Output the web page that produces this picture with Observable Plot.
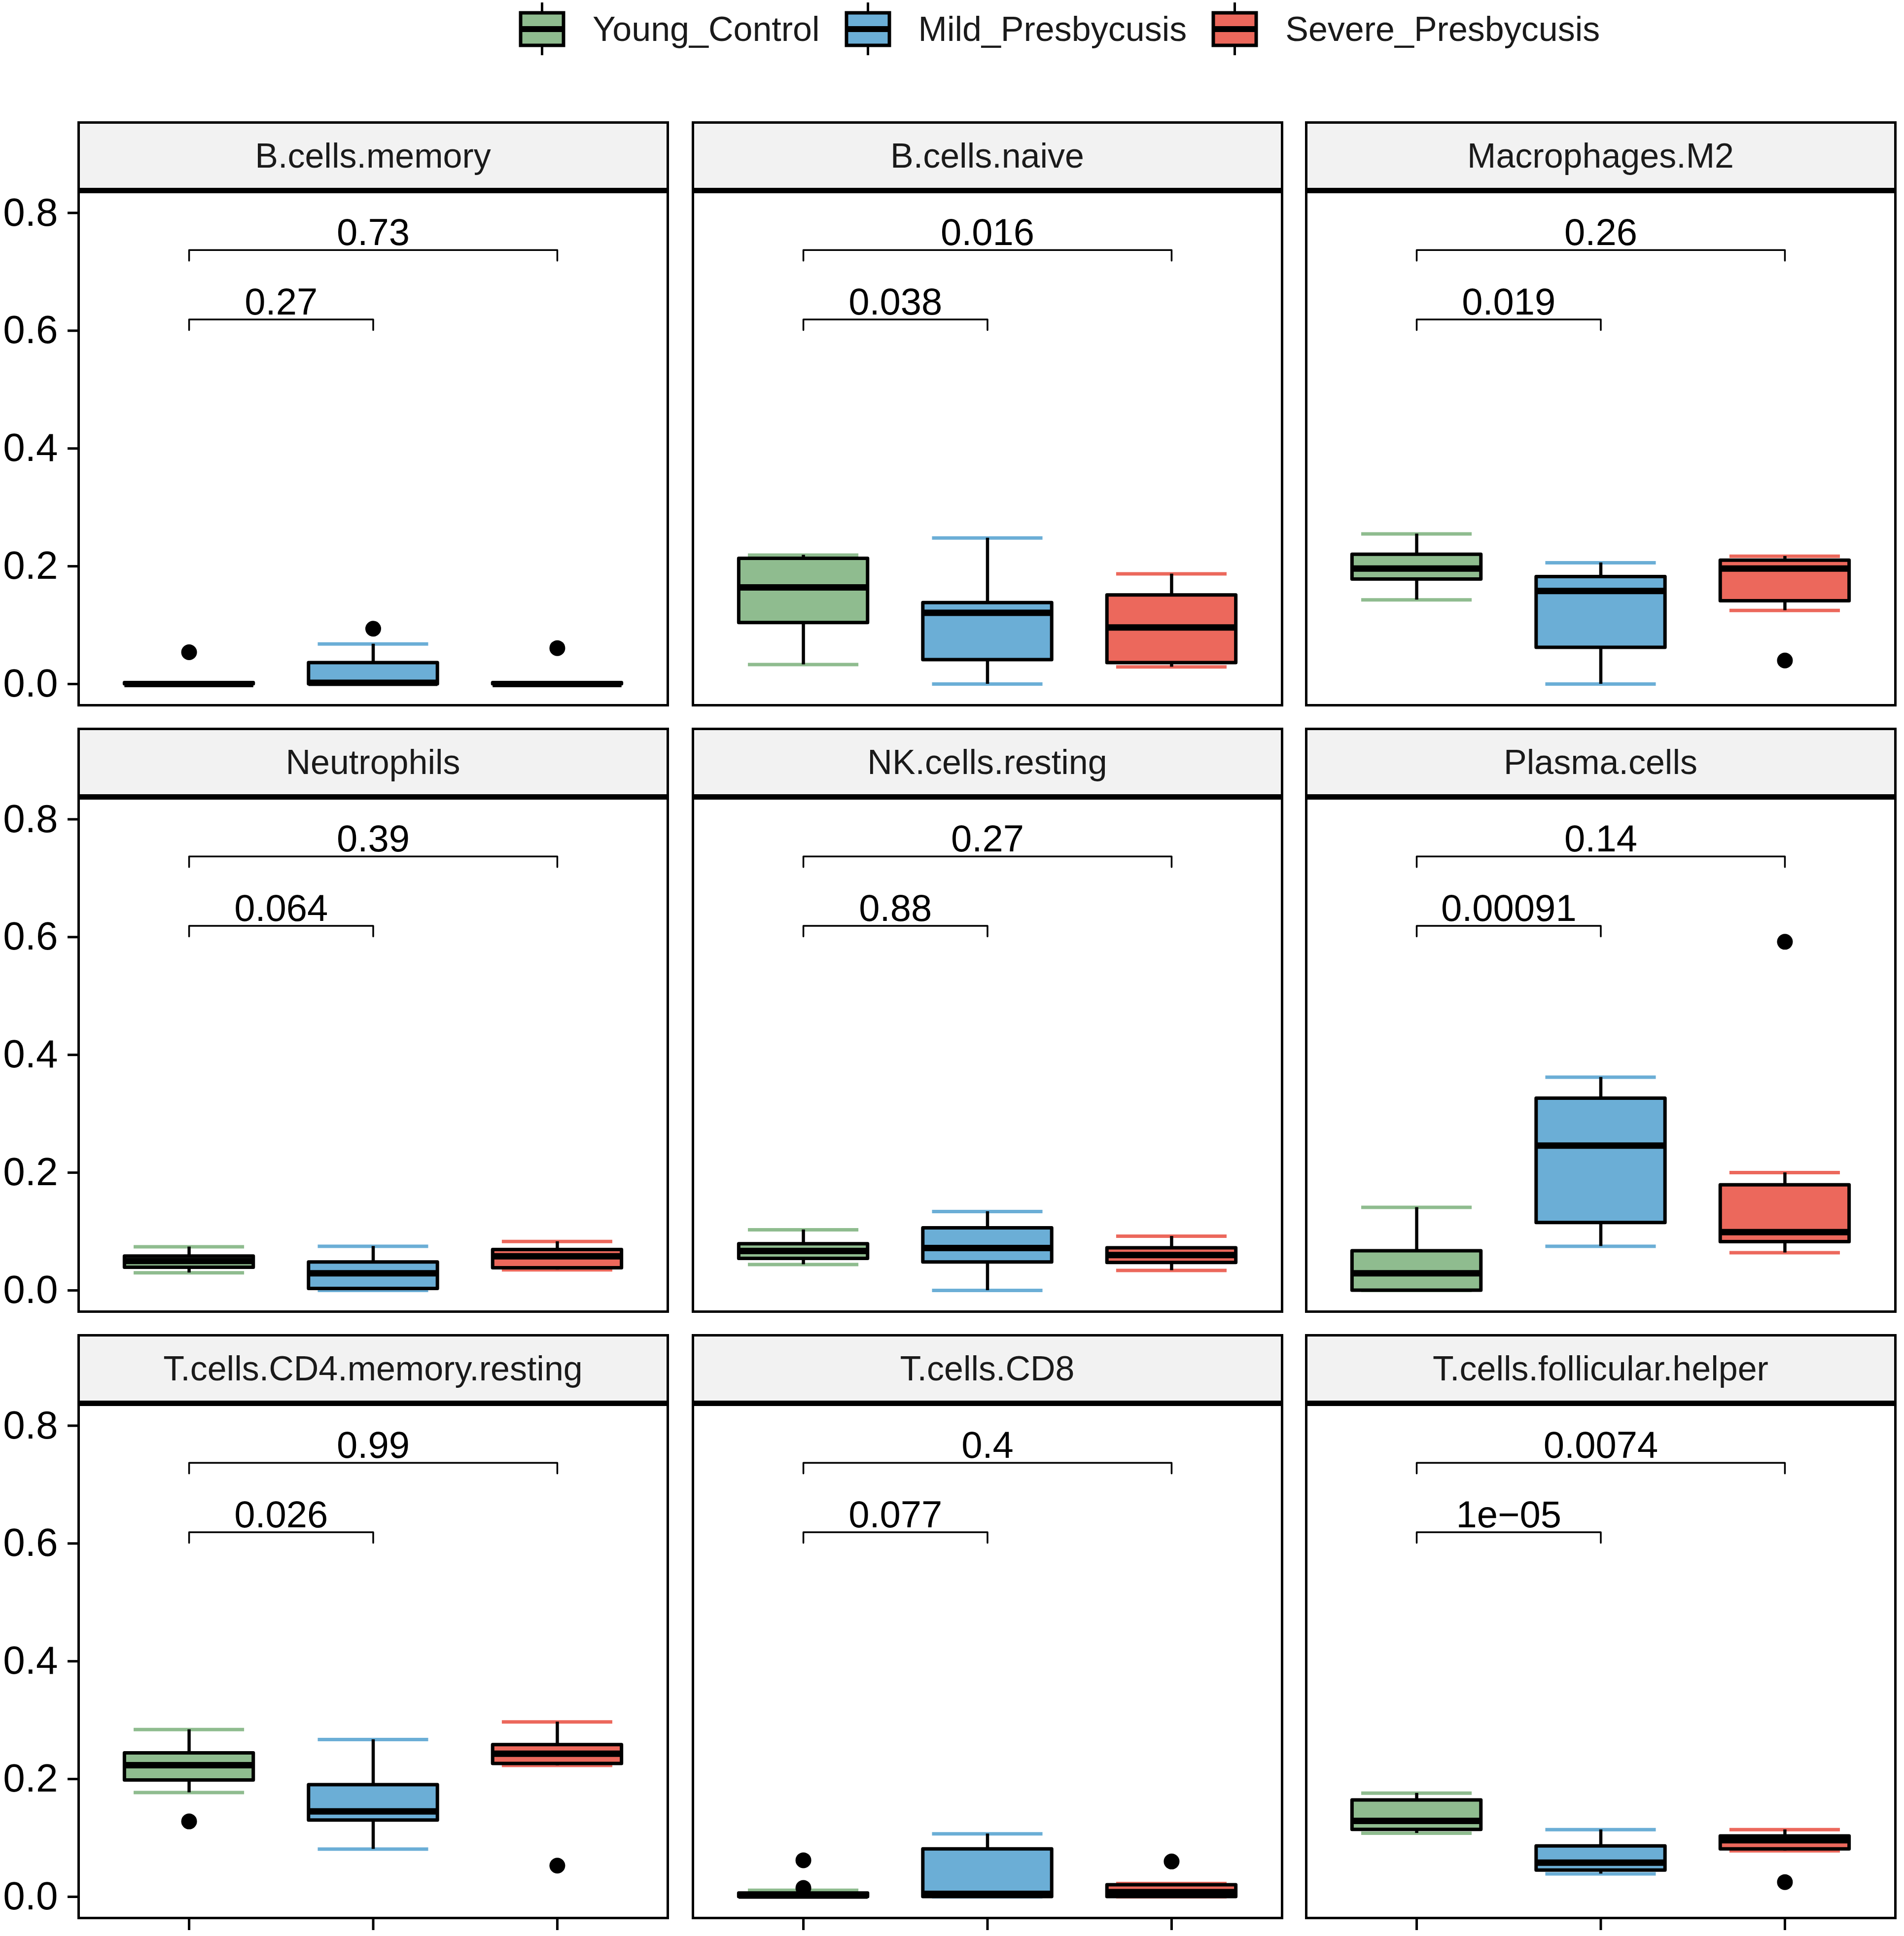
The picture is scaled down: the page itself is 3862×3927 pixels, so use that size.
<!DOCTYPE html>
<html><head><meta charset="utf-8">
<script src="https://cdn.jsdelivr.net/npm/d3@7"></script>
<script src="https://cdn.jsdelivr.net/npm/@observablehq/plot@0.6"></script>
<style>
html,body{margin:0;padding:0;background:#fff;}
#root{position:relative;width:3862px;height:3927px;font-family:"Liberation Sans",Arial,Helvetica,sans-serif;overflow:hidden;}
.strip{position:absolute;box-sizing:border-box;background:#f2f2f2;border:5px solid #000;border-bottom-width:11px;display:flex;align-items:center;justify-content:center;font-size:70px;color:#1a1a1a;}
.legend{position:absolute;top:0;left:1052px;height:118px;display:flex;align-items:center;font-size:70px;color:#1a1a1a;}
.legend .item{display:flex;align-items:center;margin-right:50px;}
.legend svg{display:block;margin-right:55px;}
.cell{position:absolute;}
</style></head><body><div id="root"></div>
<script>
// ---------------- data ----------------
const groups = ["Young_Control", "Mild_Presbycusis", "Severe_Presbycusis"];
const groupColors = ["#8FBC8F", "#6BAED6", "#EC685C"];
const panels = ["B.cells.memory", "B.cells.naive", "Macrophages.M2",
                "Neutrophils", "NK.cells.resting", "Plasma.cells",
                "T.cells.CD4.memory.resting", "T.cells.CD8", "T.cells.follicular.helper"];
// per panel: [Young, Mild, Severe]
const lowerWhisker = [
  [0, 0, 0], [0.033, 0, 0.029], [0.143, 0, 0.125],
  [0.030, 0, 0.035], [0.044, 0, 0.034], [0, 0.075, 0.064],
  [0.177, 0.081, 0.223], [0, 0, 0], [0.108, 0.039, 0.078]];
const q1Values = [
  [0, 0, 0], [0.104, 0.041, 0.036], [0.178, 0.062, 0.141],
  [0.039, 0.003, 0.038], [0.054, 0.048, 0.047], [0, 0.115, 0.0825],
  [0.198, 0.130, 0.226], [0, 0, 0], [0.114, 0.045, 0.081]];
const medianValues = [
  [0, 0.002, 0], [0.164, 0.121, 0.096], [0.196, 0.158, 0.196],
  [0.050, 0.029, 0.058], [0.067, 0.072, 0.060], [0.029, 0.246, 0.099],
  [0.2235, 0.145, 0.243], [0.002, 0.005, 0.008], [0.129, 0.058, 0.096]];
const q3Values = [
  [0.002, 0.036, 0.002], [0.213, 0.138, 0.151], [0.220, 0.182, 0.210],
  [0.058, 0.048, 0.069], [0.079, 0.106, 0.072], [0.067, 0.326, 0.179],
  [0.244, 0.190, 0.258], [0.006, 0.081, 0.020], [0.164, 0.086, 0.103]];
const upperWhisker = [
  [0.002, 0.068, 0.002], [0.219, 0.248, 0.187], [0.255, 0.206, 0.217],
  [0.074, 0.075, 0.083], [0.103, 0.134, 0.092], [0.141, 0.362, 0.200],
  [0.284, 0.267, 0.297], [0.011, 0.107, 0.0225], [0.176, 0.114, 0.114]];
const outlierValues = [
  [[0.054], [0.094], [0.061]], [[], [], []], [[], [], [0.040]],
  [[], [], []], [[], [], []], [[], [], [0.592]],
  [[0.128], [], [0.053]], [[0.062, 0.015], [], [0.060]], [[], [], [0.025]]];
const pYoungVsMild = ["0.27", "0.038", "0.019", "0.064", "0.88", "0.00091", "0.026", "0.077", "1e\u221205"];
const pYoungVsSevere = ["0.73", "0.016", "0.26", "0.39", "0.27", "0.14", "0.99", "0.4", "0.0074"];
const bracketY = [0.619, 0.737];
const bracketTip = 0.018;
const yTicks = [0, 0.2, 0.4, 0.6, 0.8];
const yDomain = [-0.036, 0.838];

// ---------------- layout / style ----------------
const colLeft = [159, 1405, 2649];
const plotTop = [386, 1616, 2846];
const stripH = 138;
const W = 1195, H = 1044;
const boxHalf = 0.35, capHalf = 0.3;
const FONT = "'Liberation Sans', Arial, Helvetica, sans-serif";

const root = document.getElementById("root");

// legend
const legend = d3.select(root).append("div").attr("class", "legend");
groups.forEach((g, j) => {
  const item = legend.append("div").attr("class", "item");
  const s = item.append("svg").attr("width", 95).attr("height", 118);
  s.append("line").attr("x1", 47.5).attr("x2", 47.5).attr("y1", 5).attr("y2", 112).attr("stroke", "#000").attr("stroke-width", 5);
  s.append("rect").attr("x", 4).attr("y", 26).attr("width", 87).attr("height", 66).attr("fill", groupColors[j]).attr("stroke", "#000").attr("stroke-width", 7);
  s.append("line").attr("x1", 4).attr("x2", 91).attr("y1", 59).attr("y2", 59).attr("stroke", "#000").attr("stroke-width", 12);
  item.append("span").text(g);
});

function makePanel(i) {
  const r = Math.floor(i / 3), c = i % 3;
  const mL = c === 0 ? 159 : 0;
  const mB = r === 2 ? 40 : 0;
  const rows = groups.map((g, j) => ({
    g, xi: j + 1,
    lo: lowerWhisker[i][j], q1: q1Values[i][j], med: medianValues[i][j],
    q3: q3Values[i][j], hi: upperWhisker[i][j]
  }));
  const outs = [];
  outlierValues[i].forEach((arr, j) => arr.forEach(v => outs.push({g: groups[j], xi: j + 1, v})));
  const brackets = [
    {a: 1, b: 2, y: bracketY[0], p: pYoungVsMild[i]},
    {a: 1, b: 3, y: bracketY[1], p: pYoungVsSevere[i]}
  ];
  const bracketPath = brackets.flatMap((b, k) => [
    {k, x: b.a, y: b.y - bracketTip}, {k, x: b.a, y: b.y},
    {k, x: b.b, y: b.y}, {k, x: b.b, y: b.y - bracketTip}]);

  const marks = [
    Plot.ruleY(rows, {x1: d => d.xi - capHalf, x2: d => d.xi + capHalf, y: "hi", stroke: "g", strokeWidth: 7}),
    Plot.ruleY(rows, {x1: d => d.xi - capHalf, x2: d => d.xi + capHalf, y: "lo", stroke: "g", strokeWidth: 7}),
    Plot.ruleX(rows, {x: "xi", y1: "q3", y2: "hi", stroke: "#000", strokeWidth: 6.5}),
    Plot.ruleX(rows, {x: "xi", y1: "lo", y2: "q1", stroke: "#000", strokeWidth: 6.5}),
    Plot.rect(rows, {x1: d => d.xi - boxHalf, x2: d => d.xi + boxHalf, y1: "q1", y2: "q3", fill: "g", stroke: "#000", strokeWidth: 7, strokeLinejoin: "round"}),
    Plot.ruleY(rows, {x1: d => d.xi - boxHalf, x2: d => d.xi + boxHalf, y: "med", stroke: "#000", strokeWidth: 13}),
    Plot.dot(outs, {x: "xi", y: "v", r: 16, fill: "#000", stroke: null}),
    Plot.line(bracketPath, {x: "x", y: "y", z: "k", stroke: "#000", strokeWidth: 3.5}),
    Plot.text(brackets, {x: d => (d.a + d.b) / 2, y: "y", text: "p", dy: -10, lineAnchor: "bottom", fontSize: 76, fill: "#000"}),
    Plot.frame({stroke: "#000", strokeWidth: 5})
  ];
  if (c === 0) marks.push(Plot.axisY({ticks: yTicks, tickFormat: d3.format(".1f"), tickSize: 22, tickPadding: 20, fontSize: 80, strokeWidth: 5, label: null, fill: "#000"}));
  if (r === 2) marks.push(Plot.axisX({ticks: [1, 2, 3], tickFormat: () => "", tickSize: 25, strokeWidth: 5, label: null}));

  const svg = Plot.plot({
    width: W + mL, height: H + mB,
    marginLeft: mL, marginRight: 0, marginTop: 0, marginBottom: mB,
    style: `overflow: visible; background: transparent; max-width: none; font-family: ${FONT};`,
    x: {domain: [0.4, 3.6], axis: r === 2 ? undefined : null},
    y: {domain: yDomain, axis: c === 0 ? undefined : null},
    color: {domain: groups, range: groupColors},
    marks
  });
  const cell = document.createElement("div");
  cell.className = "cell";
  cell.style.left = (colLeft[c] - mL) + "px";
  cell.style.top = plotTop[r] + "px";
  cell.appendChild(svg);
  root.appendChild(cell);

  const strip = document.createElement("div");
  strip.className = "strip";
  strip.style.left = (colLeft[c] - 2.5) + "px";
  strip.style.top = (plotTop[r] - stripH - 2.5) + "px";
  strip.style.width = (W + 5) + "px";
  strip.style.height = (stripH + 8) + "px";
  strip.textContent = panels[i];
  root.appendChild(strip);
}
panels.forEach((p, i) => makePanel(i));
</script></body></html>
